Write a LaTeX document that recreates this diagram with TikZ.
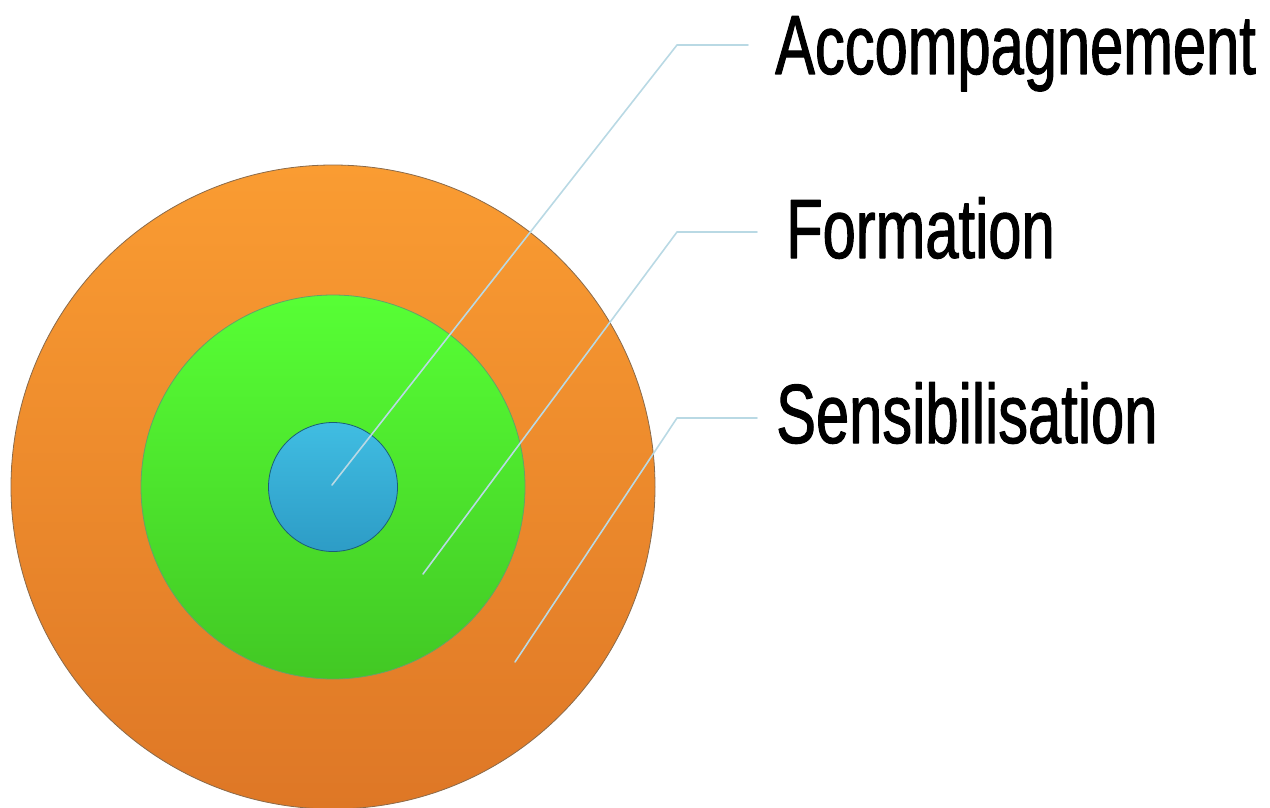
\documentclass[tikz,border=0pt]{standalone}
\usepackage{fontspec}
\setmainfont[FakeStretch=0.71,FakeBold=1.2]{Liberation Sans}
\usepackage{tikz}
\usepackage{xcolor}
\usetikzlibrary{calc}

\definecolor{orangetop}{HTML}{FA9C32}
\definecolor{orangebot}{HTML}{DE7726}
\definecolor{greentop}{HTML}{57FF35}
\definecolor{greenbot}{HTML}{42C824}
\definecolor{bluetop}{HTML}{40BDE2}
\definecolor{bluebot}{HTML}{2D9CC6}
\definecolor{rimgray}{HTML}{8A6A4A}
\definecolor{leader}{HTML}{B9D9E4}

\tikzset{
  disc/.style={circle,inner sep=0pt,draw=rimgray,line width=0.8pt},
  leadline/.style={draw=leader,line width=1.6pt},
  label/.style={anchor=base west,inner sep=0pt,font=\fontsize{84}{90}\selectfont}
}

\begin{document}
\begin{tikzpicture}[line cap=round,line join=round,x=1pt,y=-1pt]
                \useasboundingbox (0,0) rectangle (1270,808);
                % the three rings
                \node [disc,minimum size=644pt,top color=orangetop,bottom color=orangebot] (outer) at (333,487) {};
                \node [disc,minimum size=384pt,top color=greentop,bottom color=greenbot,draw=green!40!black!60] (middle) at (333,487) {};
                \node [disc,minimum size=129pt,top color=bluetop,bottom color=bluebot,draw=bluebot!60!black] (inner) at (333,487) {};
                % end points of the leaders
                \coordinate (accend) at (332,485);
                \coordinate (acccorner) at (677,45);
                \coordinate (acctip) at (748,45);
                \coordinate (formend) at (423,574);
                \coordinate (formcorner) at (677,232);
                \coordinate (formtip) at (757,232);
                \coordinate (sensend) at (515,662);
                \coordinate (senscorner) at (677,418);
                \coordinate (senstip) at (757,418);
                \draw [leadline] (accend)-- (acccorner)-- (acctip);
                \draw [leadline] (formend)-- (formcorner)-- (formtip);
                \draw [leadline] (sensend)-- (senscorner)-- (senstip);
                % texts
                \node [label] (acc) at (775,74) {Accompagnement};
                \node [label] (form) at (786,258) {Formation};
                \node [label] (sens) at (776,443) {Sensibilisation};
            \end{tikzpicture}
\end{document}
